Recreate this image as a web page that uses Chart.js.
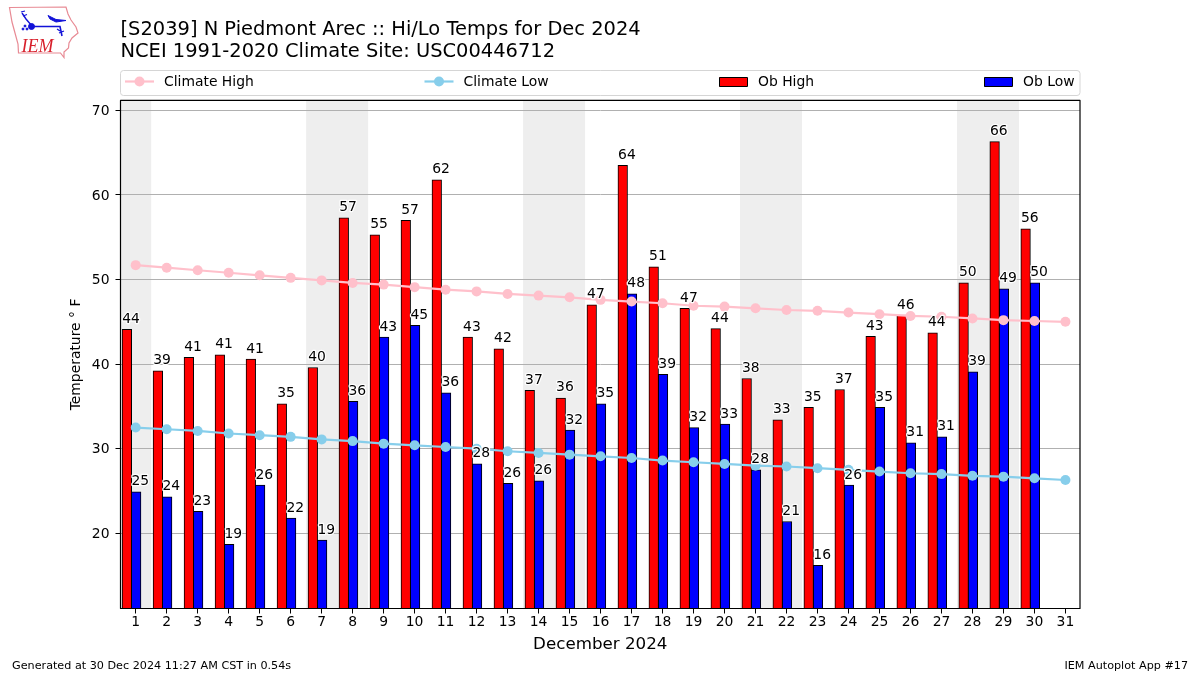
<!DOCTYPE html>
<html><head><meta charset="utf-8">
<script src="https://cdn.jsdelivr.net/npm/chart.js@4/dist/chart.umd.min.js"></script>
<style>html,body{margin:0;padding:0;background:#fff;width:1200px;height:675px;overflow:hidden}
#c{position:absolute;left:0;top:0}#logo{position:absolute;left:0;top:0}</style></head>
<body>
<canvas id="c" width="1200" height="675"></canvas>
<svg id="logo" width="90" height="65" viewBox="0 0 90 65">
<path d="M9.5 7.5 L66 7 L68 14 L71 20 L76 27 L78 33 L72 38 L69 43 L68.5 48 L64 52 L64 57.5 L60.5 53 L18.5 53 L18 44 L15 33 L12 22 Z" fill="#fff" stroke="#e88a94" stroke-width="1.2"/>
<g stroke="#1212d8" fill="#1212d8"><path d="M22 13 L26 19 L32 26" fill="none" stroke-width="1.4"/><path d="M21 12 L25 11 M23 16 L27 14.5" stroke-width="1.2"/><circle cx="31.5" cy="26.5" r="3"/><path d="M31.5 26.5 L60 26.5 L62 36" stroke-width="1.6" fill="none"/><path d="M48 15.5 L56 19.5 L66 20.5 L56 22 L50 19 Z"/><path d="M57 29 L60 31 M59 33 L64 31" stroke-width="1.2" fill="none"/><circle cx="25" cy="26" r="1"/><circle cx="23" cy="29" r="1"/><circle cx="27" cy="29" r="1"/></g>
<text x="21.5" y="51.5" font-family="Liberation Serif" font-style="italic" font-size="19" textLength="32" lengthAdjust="spacingAndGlyphs" fill="#d8202c">IEM</text>
</svg>
<script>
const days = [1,2,3,4,5,6,7,8,9,10,11,12,13,14,15,16,17,18,19,20,21,22,23,24,25,26,27,28,29,30,31];
const obHigh = [44.1,39.2,40.8,41.1,40.6,35.3,39.6,57.3,55.3,57,61.8,43.2,41.8,36.9,36,47,63.5,51.5,46.6,44.2,38.3,33.4,34.9,37,43.3,45.8,43.7,49.6,66.3,56];
const obLow = [24.9,24.3,22.6,18.7,25.7,21.8,19.2,35.6,43.2,44.6,36.6,28.2,25.9,26.2,32.2,35.3,48.3,38.8,32.5,32.9,27.5,21.4,16.2,25.7,34.9,30.7,31.4,39.1,48.9,49.6];
const highLabels = [44,39,41,41,41,35,40,57,55,57,62,43,42,37,36,47,64,51,47,44,38,33,35,37,43,46,44,50,66,56];
const lowLabels = [25,24,23,19,26,22,19,36,43,45,36,28,26,26,32,35,48,39,32,33,28,21,16,26,35,31,31,39,49,50];
const climateHigh = [51.7,51.4,51.1,50.8,50.5,50.2,49.9,49.6,49.4,49.1,48.8,48.6,48.3,48.1,47.9,47.6,47.4,47.2,46.9,46.8,46.6,46.4,46.3,46.1,45.9,45.7,45.6,45.4,45.2,45.1,45.0];
const climateLow = [32.5,32.3,32.1,31.8,31.6,31.4,31.1,30.9,30.6,30.4,30.2,30.0,29.7,29.5,29.3,29.1,28.9,28.6,28.4,28.2,28.0,27.9,27.7,27.5,27.3,27.1,27.0,26.8,26.7,26.5,26.3];
const weekendBands = [[0.5,1.5],[6.5,8.5],[13.5,15.5],[20.5,22.5],[27.5,29.5]];
const titleLines = ["[S2039] N Piedmont Arec :: Hi/Lo Temps for Dec 2024","NCEI 1991-2020 Climate Site: USC00446712"];
const FONT = '"DejaVu Sans"';

const pairs = (vals, off) => vals.map((v,i)=>({x:days[i]+off,y:v}));

const pagePlugin = {
  id:'page',
  beforeDraw(chart){
    const {ctx,chartArea:a,scales:{x}} = chart;
    ctx.save();
    ctx.fillStyle='#eeeeee';
    weekendBands.forEach(([s,e])=>{
      const l=Math.max(x.getPixelForValue(s),a.left), r=Math.min(x.getPixelForValue(e),a.right);
      ctx.fillRect(l,a.top,r-l,a.bottom-a.top);
    });
    ctx.restore();
  },
  afterDraw(chart){
    const {ctx,chartArea:a,scales:{x,y}} = chart;
    ctx.save();
    ctx.font='13.9px '+FONT; ctx.textAlign='center'; ctx.textBaseline='alphabetic'; ctx.lineJoin='round';
    const put=(txt,px,py)=>{ctx.strokeStyle='#fff';ctx.lineWidth=2.5;ctx.strokeText(txt,px,py);ctx.fillStyle='#000';ctx.fillText(txt,px,py);};
    obHigh.forEach((v,i)=>put(String(highLabels[i]),x.getPixelForValue(days[i]-0.15),y.getPixelForValue(v)-6.5));
    obLow.forEach((v,i)=>put(String(lowLabels[i]),x.getPixelForValue(days[i]+0.15),y.getPixelForValue(v)-6.5));
    ctx.strokeStyle='#000';ctx.lineWidth=1.2;ctx.strokeRect(a.left,a.top,a.right-a.left,a.bottom-a.top);
    ctx.beginPath();ctx.roundRect(120.5,70.5,959.5,25,3);ctx.strokeStyle='#d5d5d5';ctx.lineWidth=1;ctx.fillStyle='#fff';ctx.fill();ctx.stroke();
    ctx.textAlign='left';ctx.textBaseline='middle';ctx.fillStyle='#000';ctx.font='13.9px '+FONT;
    const line=(x0,c,t)=>{ctx.strokeStyle=c;ctx.lineWidth=2.2;ctx.beginPath();ctx.moveTo(x0,81.5);ctx.lineTo(x0+29,81.5);ctx.stroke();
      ctx.fillStyle=c;ctx.beginPath();ctx.arc(x0+14.5,81.5,5,0,7);ctx.fill();ctx.fillStyle='#000';ctx.fillText(t,x0+39,82);};
    const box=(x0,c,t)=>{ctx.fillStyle=c;ctx.strokeStyle='#000';ctx.lineWidth=1;ctx.fillRect(x0,77.5,28,9);ctx.strokeRect(x0+.5,77.5,28,9);ctx.fillStyle='#000';ctx.fillText(t,x0+39,82);};
    line(125,'#ffc0cb','Climate High');line(424.5,'#87ceeb','Climate Low');box(719,'#ff0000','Ob High');box(984,'#0000ff','Ob Low');
    ctx.font='11.2px '+FONT;ctx.fillStyle='#000';ctx.textBaseline='middle';
    ctx.fillText('Generated at 30 Dec 2024 11:27 AM CST in 0.54s',12,666.5);
    ctx.textAlign='right';ctx.fillText('IEM Autoplot App #17',1188,666.5);
    ctx.restore();
  }
};

new Chart(document.getElementById('c'),{
  data:{datasets:[
    {type:'line',label:'Climate High',data:pairs(climateHigh,0),borderColor:'#ffc0cb',backgroundColor:'#ffc0cb',borderWidth:2.2,pointRadius:5,pointBorderWidth:0,order:0},
    {type:'line',label:'Climate Low',data:pairs(climateLow,0),borderColor:'#87ceeb',backgroundColor:'#87ceeb',borderWidth:2.2,pointRadius:5,pointBorderWidth:0,order:0},
    {type:'bar',label:'Ob High',data:pairs(obHigh,-0.285),backgroundColor:'#ff0000',borderColor:'#000',borderWidth:1,barThickness:9.6,grouped:false,order:1},
    {type:'bar',label:'Ob Low',data:pairs(obLow,0.015),backgroundColor:'#0000ff',borderColor:'#000',borderWidth:1,barThickness:9.6,grouped:false,order:1}
  ]},
  plugins:[pagePlugin],
  options:{
    responsive:false,animation:false,devicePixelRatio:1,
    layout:{padding:{left:68,right:120,top:0,bottom:20}},
    plugins:{
      legend:{display:false},tooltip:{enabled:false},
      title:{display:true,text:titleLines,align:'start',fullSize:false,color:'#000',
        font:{family:FONT,size:19.44,weight:'normal',lineHeight:1.1},padding:{top:19.5,bottom:38.2}}
    },
    scales:{
      x:{type:'linear',min:0.5095,max:31.47,offset:false,
        afterFit(s){s.height=46.5;},
        afterBuildTicks(s){s.ticks=days.map(d=>({value:d}));},
        grid:{display:true,offset:false,drawOnChartArea:false,drawTicks:true,tickLength:5,tickColor:'#000'},
        border:{display:false},
        ticks:{color:'#000',font:{family:FONT,size:13.9},maxRotation:0,autoSkip:false,padding:1,includeBounds:false,callback:v=>String(v)},
        title:{display:true,text:'December 2024',color:'#000',font:{family:FONT,size:16.7},padding:{top:3,bottom:0}}
      },
      y:{type:'linear',min:11.11,max:71.17,
        afterFit(s){s.width=52.5;},
        afterBuildTicks(s){s.ticks=[20,30,40,50,60,70].map(v=>({value:v}));},
        grid:{color:'#b0b0b0',lineWidth:1,drawTicks:true,tickLength:5,tickColor:'#000'},
        border:{display:false},
        ticks:{color:'#000',font:{family:FONT,size:13.9},padding:6,labelOffset:1,includeBounds:false},
        title:{display:true,text:'Temperature ° F',color:'#000',font:{family:FONT,size:13.9},padding:{top:0,bottom:0}}
      }
    }
  }
});
</script>
</body></html>
